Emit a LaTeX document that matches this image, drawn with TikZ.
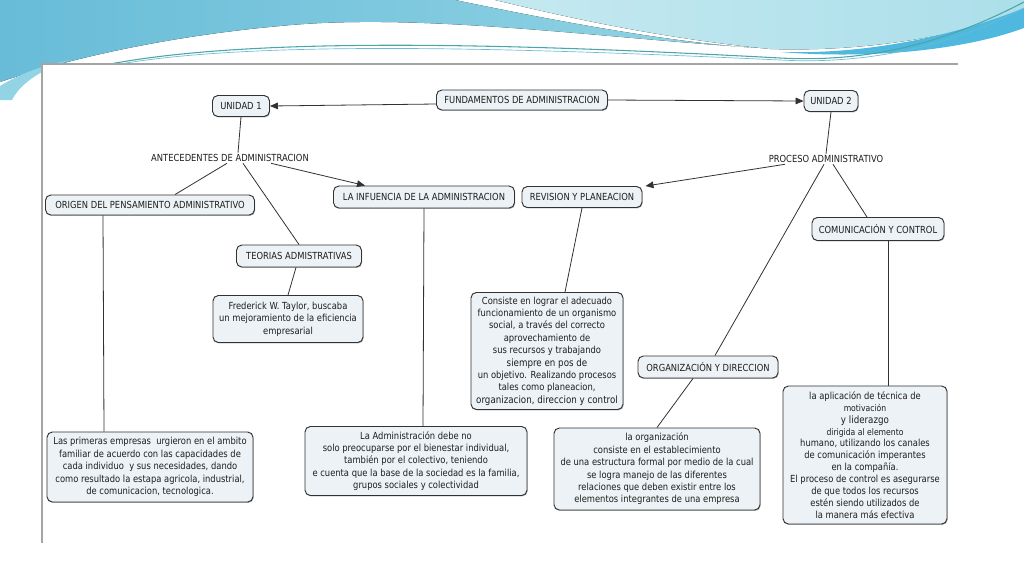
\documentclass[tikz,border=0pt]{standalone}
\usepackage{fontspec}
\setmainfont{DejaVu Sans}[FakeStretch=0.86]
\usepackage{xcolor}
\usetikzlibrary{calc, arrows.meta, shadows}
\definecolor{boxfill}{RGB}{236,242,245}
\definecolor{boxline}{RGB}{50,50,50}
\definecolor{boxtext}{RGB}{30,30,30}
\definecolor{skyA}{RGB}{104,188,216}
\definecolor{skyB}{RGB}{146,212,228}
\definecolor{skyC}{RGB}{172,223,234}
\definecolor{swoosh}{RGB}{78,184,222}
\definecolor{panelline}{RGB}{165,165,165}
\newcommand{\txt}{\fontsize{7.3}{9.3}\selectfont}
\newcommand{\largeline}[1]{{\fontsize{7.6}{9.3}\selectfont #1}}
\newcommand{\smallline}[1]{{\fontsize{6.7}{9}\selectfont #1}}

\begin{document}
\begin{tikzpicture}[x=0.75pt, y=-0.75pt,
  concept/.style={draw=boxline, fill=boxfill, rounded corners=4pt, line width=0.7pt,
    font=\txt, text=boxtext, align=center, inner sep=2pt,
    drop shadow={shadow xshift=0.5pt, shadow yshift=-0.7pt, fill=black, opacity=0.3}},
  phrase/.style={font=\txt, text=boxtext, inner sep=1pt},
  link/.style={draw=boxline, line width=0.6pt},
  arrowlink/.style={link, -{Triangle[length=6pt,width=5pt]}}]
\useasboundingbox (0,0) rectangle (1024,576);

\fill[left color=skyA, right color=skyB] (0,0) -- (455,0) .. controls (560,22) and (680,44) .. (760,48)
  .. controls (600,38) and (420,12) .. (280,26) .. controls (170,36) and (70,58) .. (0,82) -- cycle;
\fill[left color=skyC!70!white, right color=skyC] (495,0) -- (1024,0) -- (1024,12)
  .. controls (950,38) and (860,52) .. (770,49) .. controls (660,38) and (570,18) .. (495,0) -- cycle;
\fill[swoosh] (780,52) .. controls (880,55) and (970,30) .. (1024,8) -- (1024,28)
  .. controls (970,48) and (880,60) .. (780,52) -- cycle;
\fill[skyB] (0,100) -- (0,86) .. controls (20,74) and (40,66) .. (70,60) .. controls (40,70) and (20,84) .. (12,100) -- cycle;
\draw[teal!70, line width=0.8pt] (110,64) .. controls (260,36) and (520,44) .. (780,58) .. controls (890,64) and (970,30) .. (1024,2);
\draw[skyA, line width=0.5pt] (120,64) .. controls (260,40) and (520,48) .. (780,60) .. controls (890,66) and (975,34) .. (1024,8);
\fill[white] (42,64) rectangle (958,543);
\draw[panelline, line width=1pt] (958,64) -- (42,64) -- (42,543);

\node[concept, minimum width=128.25pt, minimum height=15pt] (fund) at (522,100) {FUNDAMENTOS DE ADMINISTRACION};
\node[concept, minimum width=42.75pt, minimum height=15.75pt] (u1) at (241,106) {UNIDAD 1};
\node[concept, minimum width=40.5pt, minimum height=15.75pt] (u2) at (831,101) {UNIDAD 2};

\node[phrase] (ant) at (230,158) {ANTECEDENTES DE ADMINISTRACION};
\node[phrase] (proc) at (826,159) {PROCESO ADMINISTRATIVO};

\node[concept, minimum width=156.75pt, minimum height=15pt] (origen) at (150,205) {ORIGEN DEL PENSAMIENTO ADMINISTRATIVO};
\node[concept, minimum width=93.75pt, minimum height=16.5pt] (teorias) at (299,256) {TEORIAS ADMISTRATIVAS};
\node[concept, minimum width=135.75pt, minimum height=16.5pt] (infl) at (424,197) {LA INFUENCIA DE LA ADMINISTRACION};
\node[concept, minimum width=90pt, minimum height=15.75pt] (revision) at (582,197) {REVISION Y PLANEACION};
\node[concept, minimum width=99pt, minimum height=17.25pt] (comunic) at (878,229) {COMUNICACIÓN Y CONTROL};
\node[concept, minimum width=105pt, minimum height=16.5pt] (organiz) at (708,367) {ORGANIZACIÓN Y DIRECCION};

\node[concept, minimum width=112.5pt, minimum height=35.25pt] (taylor) at (288,319)
  {Frederick W. Taylor, buscaba\\un mejoramiento de la eficiencia\\empresarial};
\node[concept, minimum width=154.5pt, minimum height=52.5pt] (primeras) at (150,467)
  {Las primeras empresas~ urgieron en el ambito\\familiar de acuerdo con las capacidades de\\cada individuo~ y sus necesidades, dando\\como resultado la estapa agricola, industrial,\\de comunicacion, tecnologica.};
\node[concept, minimum width=166.5pt, minimum height=51.75pt] (adminbox) at (416,461)
  {La Administración debe no\\solo preocuparse por el bienestar individual,\\también por el colectivo, teniendo\\e cuenta que la base de la sociedad es la familia,\\grupos sociales y colectividad};
\node[concept, minimum width=114pt, minimum height=87.75pt] (consiste) at (547,351)
  {Consiste en lograr el adecuado\\funcionamiento de un organismo\\social, a través del correcto\\aprovechamiento de\\sus recursos y trabajando\\\largeline{siempre en pos de}\\un objetivo. Realizando procesos\\tales como planeacion,\\\largeline{organizacion, direccion y control}};
\node[concept, minimum width=154.5pt, minimum height=61.5pt] (orgbox) at (657,469)
  {la organización\\consiste en el establecimiento\\de una estructura formal por medio de la cual\\se logra manejo de las diferentes\\relaciones que deben existir entre los\\elementos integrantes de una empresa};
\node[concept, minimum width=123pt, minimum height=103.5pt, font=\fontsize{7.3}{8.9}\selectfont] (aplic) at (865,455)
  {la aplicación de técnica de\\\smallline{motivación}\\\largeline{y liderazgo}\\\smallline{dirigida al elemento}\\humano, utilizando los canales\\de comunicación imperantes\\en la compañía.\\El proceso de control es asegurarse\\de que todos los recursos\\estén siendo utilizados de\\la manera más efectiva};

\draw[arrowlink] ($(fund.west)+(0,4)$) -- (u1.east);
\draw[arrowlink] (fund.east) -- (u2.west);
\draw[link] (u1.south) -- ($(ant.north)+(8,0)$);
\draw[link] ($(ant.south)+(-3,0)$) -- ($(origen.north)+(25,0)$);
\draw[link] ($(ant.south)+(13,0)$) -- (teorias.north);
\draw[arrowlink] ($(ant.south)+(41,0)$) -- ($(infl.north)+(-59,0)$);
\draw[link] ($(teorias.south)+(-3,0)$) -- (taylor.north);
\draw[link] ($(origen.south)+(-47,0)$) -- ($(primeras.north)+(-46,0)$);
\draw[link] (infl.south) -- ($(adminbox.north)+(7,0)$);
\draw[link] (u2.south) -- (proc.north);
\draw[arrowlink] ($(proc.south)+(-41,0)$) -- ($(revision.north east)+(3,0)$);
\draw[link] ($(proc.south)+(-2,0)$) -- ($(organiz.north)+(7,0)$);
\draw[link] ($(proc.south)+(7,0)$) -- ($(comunic.north)+(-11,0)$);
\draw[link] ($(comunic.south)+(10,0)$) -- ($(aplic.north)+(23,0)$);
\draw[link] (revision.south) -- ($(consiste.north)+(18,0)$);
\draw[link] ($(organiz.south)+(-15,0)$) -- (orgbox.north);
\end{tikzpicture}
\end{document}
